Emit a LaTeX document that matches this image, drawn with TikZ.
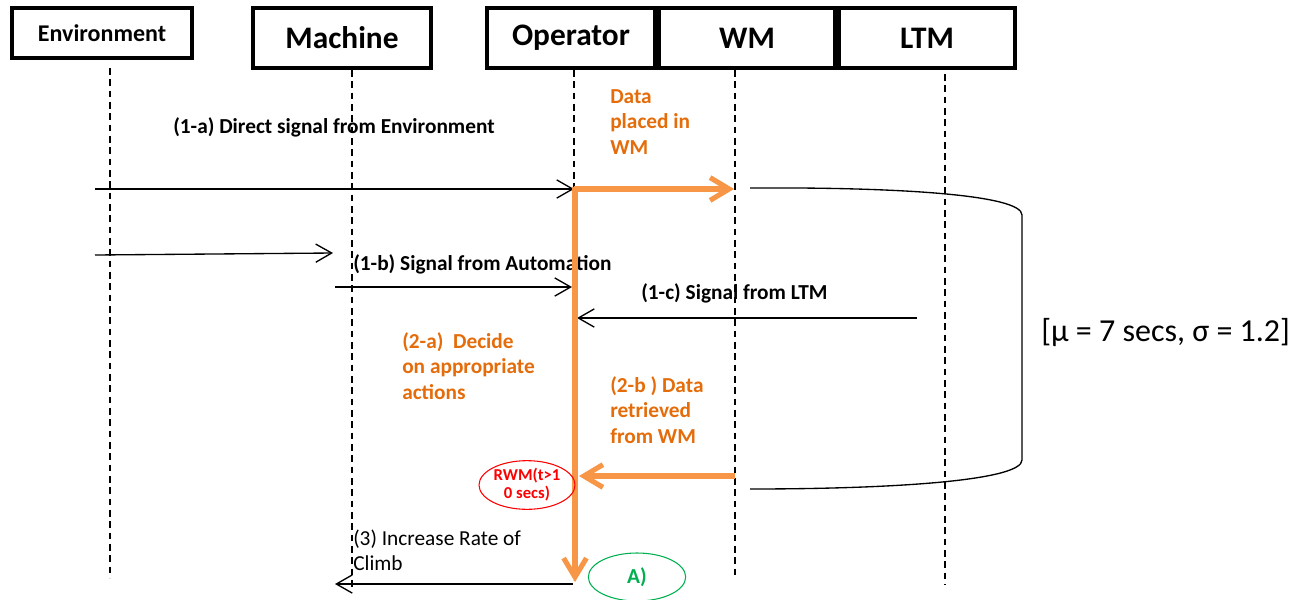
\documentclass[tikz,border=0pt]{standalone}
\usepackage{fontspec}
\setmainfont{Carlito}
\usetikzlibrary{arrows.meta,positioning,shapes.geometric}
\definecolor{tangerine}{RGB}{247,150,70}
\definecolor{rust}{RGB}{228,108,10}
\definecolor{alarm}{RGB}{255,0,0}
\definecolor{meadow}{RGB}{0,176,80}
\tikzset{
  >={Straight Barb[length=4.2mm,width=4.8mm]},
  actor/.style={draw,line width=3pt,minimum height=#1,inner sep=0pt,
    font=\bfseries\fontsize{23.5}{23.5}\selectfont},
  actor/.default=45pt,
  lifeline/.style={line width=1pt,dash pattern=on 5pt off 3.5pt},
  msg/.style={->,line width=1pt},
  memflow/.style={draw=tangerine,line width=3.8pt,
    -{Straight Barb[length=5mm,width=6mm]}},
  note/.style={anchor=west,inner sep=0pt,align=left,
    font=\bfseries\fontsize{16}{19}\selectfont},
  orange note/.style={note,text=rust},
  plain note/.style={anchor=west,inner sep=0pt,align=left,
    font=\fontsize{16}{19}\selectfont},
  bubble/.style={ellipse,draw=#1,text=#1,line width=0.8pt,inner sep=0pt,
    align=center},
}

\begin{document}
\begin{tikzpicture}[x=0.75pt,y=-0.75pt]
  \useasboundingbox (0,0) rectangle (1311,600);
  % actors
  \node[actor=37.5pt,minimum width=135pt,font=\bfseries\fontsize{18}{18}\selectfont] (env) at (102,33) {Environment};
  \node[actor,minimum width=133.5pt] (mach) at (342,38) {Machine};
  \node[actor,minimum width=126pt] (oper) at (571,38) {Operator};
  \node[actor,minimum width=132pt,anchor=west] (wm) at (oper.east) {WM};
  \node[actor,minimum width=132pt,anchor=west] (ltm) at (wm.east) {LTM};
  % lifelines
  \foreach \who/\x/\t/\b in {env/110/68/578,mach/352/70/590,oper/574/70/580,wm/735/70/578,ltm/945/74/585}{
    \coordinate (\who top) at (\x,\t);
    \coordinate (\who end) at (\x,\b);
    \draw[lifeline] (\who top) -- (\who end);
  }
  % message points
  \coordinate (a0) at (95,189);   \coordinate (a1) at (574,189);
  \coordinate (b0) at (95,255);   \coordinate (b1) at (333,253);
  \coordinate (b2) at (335,287);  \coordinate (b3) at (572,287);
  \coordinate (c0) at (917,318);  \coordinate (c1) at (577,318);
  \coordinate (d0) at (573,584);  \coordinate (d1) at (335,584);
  \coordinate (wmIn) at (734,189); \coordinate (opTop) at (575,187);
  \coordinate (opEnd) at (575,582);
  \coordinate (wmOut) at (735,476); \coordinate (opIn) at (579,476);
  \coordinate (bt) at (750,188);  \coordinate (bb) at (750,489);
  % signals
  \draw[msg] (a0) -- (a1);
  \draw[msg] (b0) -- (b1);
  \draw[msg] (b2) -- (b3);
  \draw[msg] (c0) -- (c1);
  \draw[msg] (d0) -- (d1);
  \node[note] (lblA) at (173,127) {(1-a) Direct signal from Environment};
  \node[note] (lblB) at (353,264) {(1-b) Signal from Automation};
  \node[note] (lblC) at (641,293) {(1-c) Signal from LTM};
  \node[plain note] (lblD) at (353,550) {(3) Increase Rate of\\Climb};
  % working memory
  \draw[memflow] (a1) -- (wmIn);
  \draw[memflow] (opTop) -- (opEnd);
  \draw[memflow] (wmOut) -- (opIn);
  \node[orange note] (put) at (610,122) {Data\\placed in\\WM};
  \node[orange note] (decide) at (402,366) {(2-a)\ \ Decide\\on appropriate\\actions};
  \node[orange note] (fetch) at (610,410) {(2-b ) Data\\retrieved\\from WM};
  \node[bubble=alarm,minimum width=72pt,minimum height=36.5pt,
    font=\bfseries\fontsize{12.5}{13.5}\selectfont] (rwm) at (527,485) {RWM(t>1\\0 secs)};
  \node[bubble=meadow,minimum width=73pt,minimum height=36pt,
    font=\bfseries\fontsize{16}{16}\selectfont] (ack) at (637,577) {A)};
  % retention span
  \draw[line width=1pt] (bt) .. controls (900,187) and (1022,195) .. (1022,215)
    -- (1022,460) .. controls (1022,480) and (900,489) .. (bb);
  \node[plain note,font=\fontsize{24}{24}\selectfont] (span) at (1041,333) {[μ = 7 secs, σ = 1.2]};
\end{tikzpicture}
\end{document}
